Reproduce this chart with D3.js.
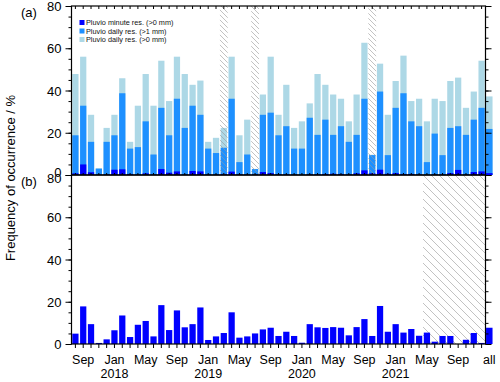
<!DOCTYPE html>
<html>
<head>
<meta charset="utf-8">
<script src="https://d3js.org/d3.v7.min.js"></script>
<style>
  body { margin: 0; background: #fff; }
  svg { display: block; font-family: "Liberation Sans", Arial, sans-serif; }
</style>
</head>
<body>
<div id="chart"></div>
<script>
// monthly categories, Aug 2017 .. Dec 2021
const months = [
  "2017-08","2017-09","2017-10","2017-11","2017-12",
  "2018-01","2018-02","2018-03","2018-04","2018-05","2018-06","2018-07","2018-08","2018-09","2018-10","2018-11","2018-12",
  "2019-01","2019-02","2019-03","2019-04","2019-05","2019-06","2019-07","2019-08","2019-09","2019-10","2019-11","2019-12",
  "2020-01","2020-02","2020-03","2020-04","2020-05","2020-06","2020-07","2020-08","2020-09","2020-10","2020-11","2020-12",
  "2021-01","2021-02","2021-03","2021-04","2021-05","2021-06","2021-07","2021-08","2021-09","2021-10","2021-11","2021-12"
];

// panel (a): frequency of occurrence (%)
const dailyGt0 = [
  47.8, 56.0, 28.5, 3.2, 22.3, 28.5, 45.8, 15.7, 32.8, 47.8, 32.8, 54.1, 35.0, 56.0, 47.8, 42.7, 44.7, 15.7,
  17.6, 22.3, 56.0, 18.8, 26.2, 2.9, 38.1, 56.0, 28.5, 42.7, 22.3, 25.4, 33.9, 47.8, 42.7, 38.1, 36.1, 25.4,
  38.1, 62.6, 9.6, 52.7, 28.5, 44.5, 56.5, 35.0, 36.1, 25.4, 36.1, 35.0, 44.5, 46.1, 31.8, 39.5, 54.1
];
const dailyGt1 = [
  18.8, 32.8, 15.7, 3.0, 15.7, 18.8, 38.7, 12.5, 13.2, 25.4, 9.7, 31.8, 18.8, 36.1, 22.3, 32.8, 28.5, 12.5,
  10.4, 12.9, 36.1, 6.1, 9.7, 2.8, 28.5, 29.5, 18.8, 23.1, 12.5, 12.5, 27.1, 19.0, 26.2, 19.0, 23.1, 15.7,
  19.0, 36.1, 9.4, 39.5, 9.4, 31.8, 38.7, 25.4, 23.1, 6.1, 19.6, 9.4, 22.3, 23.1, 19.0, 26.2, 31.8
];
const minuteGt0 = [
  0.8, 5.0, 1.3, 0.1, 0.3, 2.5, 2.7, 0.5, 0.2, 0.8, 0.2, 2.8, 1.1, 1.7, 0.2, 1.9, 1.7, 0.2,
  0.2, 0.5, 1.6, 0.3, 0.2, 0.3, 1.4, 0.9, 0.3, 0.3, 0.2, 0.0, 0.3, 0.3, 0.5, 0.6, 0.5, 0.2,
  0.8, 2.2, 0.8, 2.5, 0.6, 0.9, 0.5, 0.5, 0.2, 0.0, 0.2, 0.2, 0.9, 2.4, 0.2, 1.4, 1.7
];
const allA = { gt0: 37.2, gt1: 21.8, minute: 0.9 };

// panel (b)
const panelB = [
  4.9, 17.8, 9.4, 0.5, 2.2, 6.5, 13.5, 3.3, 9.1, 10.9, 3.6, 18.4, 6.6, 15.9, 7.9, 9.4, 17.3, 1.9,
  3.6, 5.2, 15.0, 3.0, 3.6, 5.0, 6.9, 7.7, 3.8, 5.8, 3.8, 0.6, 9.4, 7.9, 7.6, 8.0, 7.7, 4.1,
  8.0, 11.8, 3.8, 18.0, 5.8, 9.4, 5.4, 7.1, 3.9, 5.4, 1.1, 3.8, 3.8, 0.0, 2.0, 5.2, 0.5
];
const allB = 7.7;

// hatched (missing data) months
const hatchA = ["2019-03", "2019-07", "2020-10"];
const hatchB = ["2021-05", "2021-12"]; // from .. to

const tickMonths = ["2017-09","2018-01","2018-05","2018-09","2019-01","2019-05","2019-09",
  "2020-01","2020-05","2020-09","2021-01","2021-05","2021-09"];
const monthNames = { "01": "Jan", "05": "May", "09": "Sep" };
const yTicks = [0, 20, 40, 60, 80];
const yMinor = d3.range(0, 81, 5);

const legendItems = [
  { label: "Pluvio minute res. (>0 mm)", color: "#0000ff" },
  { label: "Pluvio daily res. (>1 mm)", color: "#1e90ff" },
  { label: "Pluvio daily res. (>0 mm)", color: "#add8e6" }
];

const W = 500, H = 382;
const left = 71.5, right = 485.5;
const aTop = 6, aBot = 175, bTop = 175, bBot = 344;

const svg = d3.select("#chart").append("svg").attr("width", W).attr("height", H);

// diagonal "\" hatching
const defs = svg.append("defs");
function hatch(id, s, color) {
  const p = defs.append("pattern").attr("id", id).attr("patternUnits", "userSpaceOnUse")
    .attr("width", s).attr("height", s);
  p.append("path")
    .attr("d", `M-1,-1 L${s + 1},${s + 1} M${-s},0 L${s},${2 * s} M0,${-s} L${2 * s},${s}`)
    .attr("stroke", color).attr("stroke-width", 0.6).attr("fill", "none");
}
hatch("hatchA", 5, "#999");
hatch("hatchB", 8, "#999");

const x = d3.scaleBand().domain(months).range([left, right]).paddingInner(0.2).paddingOuter(0.1);
const xAll = d3.scaleBand().domain(["all"]).range([right, right + 7.6]).padding(0.08);
const ya = d3.scaleLinear().domain([0, 80]).range([aBot, aTop]);
const yb = d3.scaleLinear().domain([0, 80]).range([bBot, bTop]);

// ---- panel (a) bars
const ga = svg.append("g");
const series = [
  { vals: dailyGt0, all: allA.gt0, color: "#add8e6" },
  { vals: dailyGt1, all: allA.gt1, color: "#1e90ff" },
  { vals: minuteGt0, all: allA.minute, color: "#0000ff" }
];
series.forEach(s => {
  ga.selectAll(null).data(s.vals).enter().append("rect")
    .attr("x", (d, i) => x(months[i]))
    .attr("width", x.bandwidth())
    .attr("y", d => ya(d))
    .attr("height", d => ya(0) - ya(d))
    .attr("fill", s.color);
  ga.append("rect")
    .attr("x", xAll("all")).attr("width", xAll.bandwidth())
    .attr("y", ya(s.all)).attr("height", ya(0) - ya(s.all))
    .attr("fill", s.color);
});

// hatched columns in (a)
ga.selectAll(null).data(hatchA).enter().append("rect")
  .attr("x", d => x(d) - x.step() * 0.1)
  .attr("width", x.step())
  .attr("y", aTop).attr("height", aBot - aTop)
  .attr("fill", "url(#hatchA)");

// ---- panel (b) bars
const gb = svg.append("g");
const hx0 = x(hatchB[0]) - x.step() * 0.1;
gb.append("rect")
  .attr("x", hx0).attr("width", right - hx0)
  .attr("y", bTop).attr("height", bBot - bTop)
  .attr("fill", "url(#hatchB)");
gb.selectAll(null).data(panelB).enter().append("rect")
  .attr("x", (d, i) => x(months[i]))
  .attr("width", x.bandwidth())
  .attr("y", d => yb(d))
  .attr("height", d => yb(0) - yb(d))
  .attr("fill", "#0000ff");
gb.append("rect")
  .attr("x", xAll("all")).attr("width", xAll.bandwidth())
  .attr("y", yb(allB)).attr("height", yb(0) - yb(allB))
  .attr("fill", "#0000ff");

// ---- frames and axes
function yAxes(y, shift) {
  const g = svg.append("g");
  g.append("g").attr("transform", `translate(${left},0)`)
    .call(d3.axisLeft(y).tickValues(yMinor).tickSize(3).tickFormat(""));
  g.append("g").attr("transform", `translate(${left},0)`)
    .call(d3.axisLeft(y).tickValues(yTicks).tickSize(6).tickPadding(4))
    .call(a => a.selectAll("text").attr("font-size", 13).attr("fill", "#000")
      .style("font-family", "Liberation Sans, Arial, sans-serif")
      .attr("dy", d => (shift[d] || 0) + 4.5));
  g.append("g").attr("transform", `translate(${right},0)`)
    .call(d3.axisRight(y).tickValues(yMinor).tickSize(3).tickFormat(""));
  g.append("g").attr("transform", `translate(${right},0)`)
    .call(d3.axisRight(y).tickValues(yTicks).tickSize(6).tickFormat(""));
  g.selectAll(".domain").remove();
  g.selectAll("line").attr("stroke", "#000");
}
yAxes(ya, { 0: -3 });
yAxes(yb, { 80: 3 });

// month ticks
const xt = svg.append("g");
xt.append("g").attr("transform", `translate(0,${aTop})`)
  .call(d3.axisBottom(x).tickSize(3).tickFormat(""));
xt.append("g").attr("transform", `translate(0,${aBot})`)
  .call(d3.axisTop(x).tickSize(2).tickFormat(""));
xt.append("g").attr("transform", `translate(0,${bBot})`)
  .call(d3.axisBottom(x).tickSize(4).tickFormat(""));
xt.selectAll(".domain").remove();
xt.selectAll("line").attr("stroke", "#000");

// boxes
svg.append("rect").attr("x", left).attr("y", aTop).attr("width", right - left).attr("height", aBot - aTop)
  .attr("fill", "none").attr("stroke", "#000").attr("stroke-width", 1.2);
svg.append("rect").attr("x", left).attr("y", bTop).attr("width", right - left).attr("height", bBot - bTop)
  .attr("fill", "none").attr("stroke", "#000").attr("stroke-width", 1.2);

// x labels
const lab = svg.append("g").attr("font-size", 12.5).attr("fill", "#000").attr("text-anchor", "middle");
lab.selectAll(null).data(tickMonths).enter().append("text")
  .attr("x", d => x(d) + x.bandwidth() / 2)
  .attr("y", 363.5)
  .text(d => monthNames[d.slice(5)]);
lab.selectAll(null).data(tickMonths.filter(d => d.endsWith("-01"))).enter().append("text")
  .attr("x", d => x(d) + x.bandwidth() / 2)
  .attr("y", 377.5)
  .text(d => d.slice(0, 4));
lab.append("text").attr("x", xAll("all") + xAll.bandwidth() / 2).attr("y", 363.5).text("all");

// y title and panel labels
svg.append("text")
  .attr("transform", `translate(14.5,178) rotate(-90)`)
  .attr("text-anchor", "middle").attr("font-size", 13).text("Frequency of occurrence / %");
svg.append("text").attr("x", 21).attr("y", 16.5).attr("font-size", 13).text("(a)");
svg.append("text").attr("x", 21).attr("y", 186).attr("font-size", 13).text("(b)");

// legend
const lg = svg.append("g").attr("transform", "translate(79.5,20)");
lg.selectAll(null).data(legendItems).enter().append("rect")
  .attr("x", 0).attr("y", (d, i) => i * 8.5)
  .attr("width", 5).attr("height", 5).attr("fill", d => d.color);
lg.selectAll(null).data(legendItems).enter().append("text")
  .attr("x", 6.5).attr("y", (d, i) => i * 8.5 + 5.3)
  .attr("font-size", 7.3).attr("fill", "#111")
  .text(d => d.label);
</script>
</body>
</html>
